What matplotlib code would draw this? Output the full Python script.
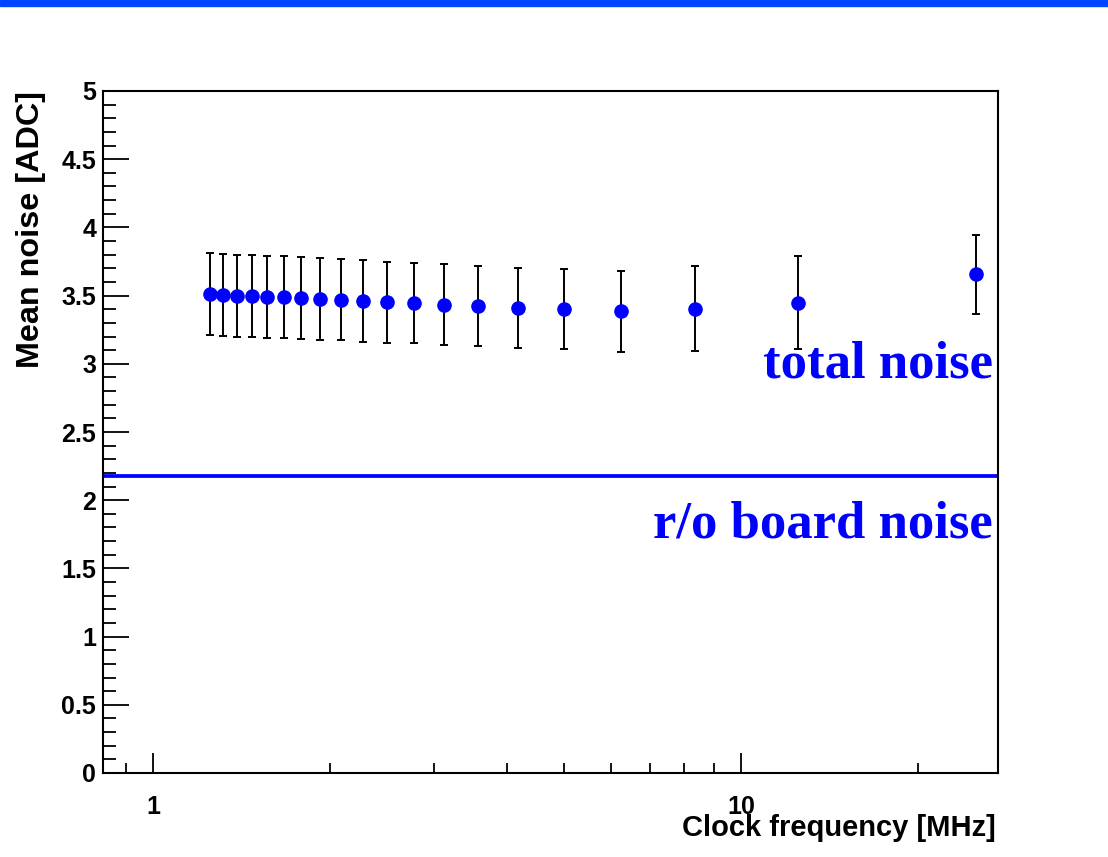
import numpy as np
import matplotlib
matplotlib.use("Agg")
import matplotlib.pyplot as plt
from matplotlib.ticker import FixedLocator, NullFormatter, FixedFormatter

# data
freq_mhz = [1.25, 1.316, 1.389, 1.471, 1.5625, 1.667, 1.786, 1.923, 2.083, 2.273,
            2.5, 2.778, 3.125, 3.571, 4.167, 5.0, 6.25, 8.333, 12.5, 25.0]
mean_noise = [3.510, 3.504, 3.499, 3.497, 3.492, 3.488, 3.480, 3.475, 3.468, 3.460,
              3.451, 3.448, 3.433, 3.424, 3.407, 3.400, 3.385, 3.404, 3.448, 3.656]
noise_err = [0.302, 0.303, 0.302, 0.303, 0.301, 0.302, 0.300, 0.299, 0.297, 0.299,
             0.296, 0.294, 0.296, 0.296, 0.293, 0.293, 0.295, 0.310, 0.340, 0.288]
board_noise = 2.18

y_major = [0, 0.5, 1, 1.5, 2, 2.5, 3, 3.5, 4, 4.5, 5]
y_labels = ["0", "0.5", "1", "1.5", "2", "2.5", "3", "3.5", "4", "4.5", "5"]
x_major = [1, 10]
x_labels = ["1", "10"]

sans = ["Liberation Sans", "DejaVu Sans"]
serif = ["Liberation Serif", "DejaVu Serif"]

fig = plt.figure(figsize=(11.08, 8.57), dpi=100)
# blue band at top of the slide
fig.patches.append(plt.Rectangle((0, 1 - 6 / 857), 1, 6 / 857, transform=fig.transFigure,
                                 color="#0044ff", zorder=0))

ax = fig.add_axes([103 / 1108, 84 / 857, 895 / 1108, 682 / 857])
ax.set_xscale("log")
ax.set_xlim(0.822, 27.3)
ax.set_ylim(0, 5)

ax.errorbar(freq_mhz, mean_noise, yerr=noise_err, fmt="o", color="blue", ms=9.5,
            mec="blue", ecolor="black", elinewidth=1.4, capsize=3, capthick=1.4, zorder=3)
ax.axhline(board_noise, color="blue", lw=2.7, zorder=2)

ax.text(0.9944, 2.903, "total noise", transform=ax.get_yaxis_transform(), ha="right",
        va="baseline", color="blue", fontsize=38, fontweight="bold", family=serif)
ax.text(0.9944, 1.730, "r/o board noise", transform=ax.get_yaxis_transform(), ha="right",
        va="baseline", color="blue", fontsize=38, fontweight="bold", family=serif)

for s in ax.spines.values():
    s.set_linewidth(1.5)

ax.yaxis.set_major_locator(FixedLocator(y_major))
ax.yaxis.set_major_formatter(FixedFormatter(y_labels))
ax.yaxis.set_minor_locator(FixedLocator(np.arange(0, 5.01, 0.1)))
ax.xaxis.set_major_locator(FixedLocator(x_major))
ax.xaxis.set_major_formatter(FixedFormatter(x_labels))
ax.xaxis.set_minor_locator(FixedLocator([0.9, 2, 3, 4, 5, 6, 7, 8, 9, 20]))
ax.xaxis.set_minor_formatter(NullFormatter())

ax.tick_params(axis="y", which="major", direction="in", length=18.7, width=1.3, pad=5)
ax.tick_params(axis="y", which="minor", direction="in", length=9.4, width=1.3)
ax.tick_params(axis="x", which="major", direction="in", length=14.4, width=1.3, pad=16)
ax.tick_params(axis="x", which="minor", direction="in", length=7.2, width=1.3)
for lab in ax.get_xticklabels() + ax.get_yticklabels():
    lab.set_fontsize(18)
    lab.set_fontweight("bold")
    lab.set_family(sans)

fig.text(31 / 1108, 1 - 91 / 857, "Mean noise [ADC]", rotation=90, ha="center", va="top",
         fontsize=23.3, fontweight="bold", family=sans)
fig.text(996 / 1108, 1 - 836 / 857, "Clock frequency [MHz]", ha="right", va="baseline",
         fontsize=21, fontweight="bold", family=sans)

fig.savefig("out.png", dpi=100, facecolor="white")
